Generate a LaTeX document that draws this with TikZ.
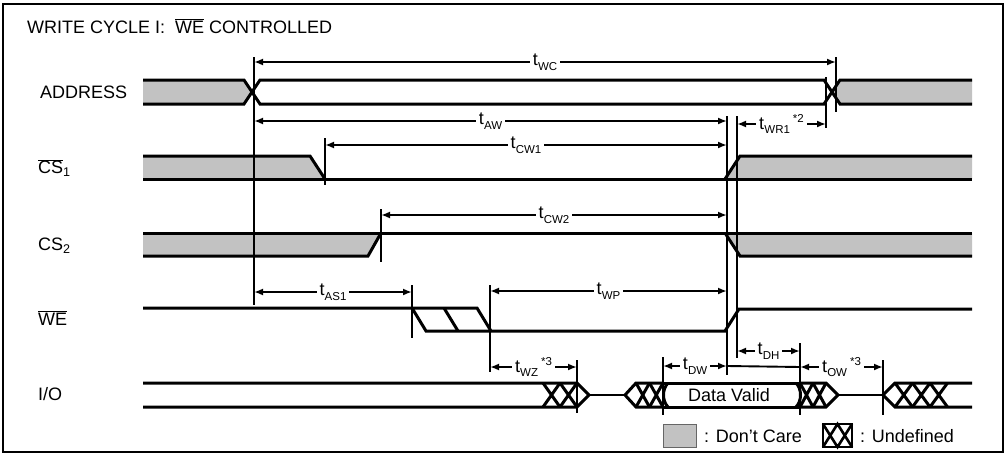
\documentclass[tikz,border=0pt]{standalone}
\usepackage{fontspec}
\setmainfont{Liberation Sans}
\usetikzlibrary{arrows.meta}
\newcommand\tlab[1]{t\kern0.2pt\raisebox{-0.5ex}{\fontsize{11.5}{12}\selectfont #1}}
\newcommand\nstar[1]{\kern3pt\raisebox{0.75ex}{\fontsize{11.5}{12}\selectfont *#1}}
\begin{document}
\begin{tikzpicture}[x=1pt,y=-1pt,
  sig/.style={line width=3pt, line join=miter},
  thin/.style={line width=1.9pt},
  dc/.style={fill=black!24, draw=none},
  dim/.style={line width=1.9pt, {Latex[length=9pt,width=7pt]}-{Latex[length=9pt,width=7pt]}},
  tl/.style={fill=white, inner sep=3pt, font=\fontsize{18}{20}\selectfont},
  lbl/.style={anchor=west, inner sep=0pt, font=\fontsize{18}{20}\selectfont},
  txt/.style={inner sep=0pt, font=\fontsize{18}{20}\selectfont}]
\useasboundingbox (0,0) rectangle (1006,463);
\draw[line width=2.2pt] (3,4) rectangle (1003,452);

% title and signal labels
\node[txt, anchor=base west] (title) at (27,33) {WRITE CYCLE I:\ \ $\overline{\hbox{WE}}$ CONTROLLED};
\node[lbl] (lA) at (40,92) {ADDRESS};
\node[lbl] (lC1) at (38,168) {$\overline{\hbox{CS}}$\textsubscript{1}};
\node[lbl] (lC2) at (38,246) {CS\textsubscript{2}};
\node[lbl] (lWE) at (38,318) {$\overline{\hbox{WE}}$};
\node[lbl] (lIO) at (38,394) {I/O};

% ---------- shading (don't care) ----------
\fill[dc] (143,80) -- (244,80) -- (252,92) -- (244,104) -- (143,104) -- cycle;
\fill[dc] (832,92) -- (840,80) -- (972,80) -- (972,104) -- (840,104) -- cycle;
\fill[dc] (143,156) -- (310,156) -- (325,179) -- (143,179) -- cycle;
\fill[dc] (725,179) -- (740,156) -- (972,156) -- (972,179) -- cycle;
\fill[dc] (143,233) -- (381,233) -- (368,256) -- (143,256) -- cycle;
\fill[dc] (725,233) -- (972,233) -- (972,256) -- (740,256) -- cycle;

% ---------- ADDRESS ----------
\draw[sig] (143,80) -- (244,80) -- (260,104) -- (824,104) -- (840,80) -- (972,80);
\draw[sig] (143,104) -- (244,104) -- (260,80) -- (824,80) -- (840,104) -- (972,104);

% ---------- CS1 ----------
\draw[sig] (143,156) -- (310,156) -- (325,179);
\draw[sig] (143,179) -- (972,179);
\draw[sig] (725,179) -- (740,156) -- (972,156);

% ---------- CS2 ----------
\draw[sig] (143,233) -- (972,233);
\draw[sig] (143,256) -- (368,256) -- (381,233);
\draw[sig] (725,233) -- (740,256) -- (972,256);

% ---------- WE ----------
\draw[sig] (143,308) -- (477,308) -- (491,331) -- (725,331) -- (739,309) -- (972,309);
\draw[sig] (412,308) -- (426,331) -- (491,331);
\draw[sig] (444,308) -- (458,331);

% ---------- I/O ----------
\draw[sig] (143,383) -- (577,383) -- (589,395) -- (577,407) -- (143,407);
\foreach \a in {543,560} \draw[sig] (\a,383) -- (\a+17,407) (\a,407) -- (\a+17,383);
\draw[line width=1.9pt] (589,395) -- (625,395);
\draw[sig] (663,383) -- (636,383) -- (625,395) -- (636,407) -- (663,407);
\foreach \a in {636,649.5} \draw[sig] (\a,383) -- (\a+13.5,407) (\a,407) -- (\a+13.5,383);
\draw[sig] (663,383) -- (800,383) (663,407) -- (800,407);
\draw[sig] (668,383) .. controls (662,389) and (662,401) .. (668,407);
\draw[sig] (796,383) .. controls (802,389) and (802,401) .. (796,407);
\draw[sig] (800,383) -- (826,383) -- (838,395) -- (826,407) -- (800,407);
\foreach \a in {800,813} \draw[sig] (\a,383) -- (\a+13,407) (\a,407) -- (\a+13,383);
\draw[line width=1.9pt] (838,395) -- (883,395);
\draw[sig] (972,383) -- (895,383) -- (883,395) -- (895,407) -- (972,407);
\foreach \a in {895,912.5,930} \draw[sig] (\a,383) -- (\a+17.5,407) (\a,407) -- (\a+17.5,383);
\node[txt] (dv) at (729,395) {Data Valid};

% ---------- vertical reference lines ----------
\draw[thin] (254,57) -- (254,305);
\draw[thin] (836,57) -- (836,112);
\draw[thin] (826,77) -- (826,128);
\draw[thin] (727,116) -- (727,375);
\draw[thin] (737,116) -- (737,358);
\draw[thin] (325,138) -- (325,185);
\draw[thin] (381,209) -- (381,262);
\draw[thin] (412,285) -- (412,338);
\draw[thin] (490,285) -- (490,372);
\draw[thin] (577,360) -- (577,413);
\draw[thin] (663,357) -- (663,415);
\draw[thin] (800,343) -- (800,415);
\draw[thin] (883,360) -- (883,415);

% ---------- timing arrows ----------
\coordinate (wc1) at (254,62);  \coordinate (wc2) at (836,62);
\coordinate (aw1) at (254,121); \coordinate (aw2) at (727,121);
\coordinate (wr1) at (737,124); \coordinate (wr2) at (826,124);
\coordinate (c11) at (325,145); \coordinate (c12) at (727,145);
\coordinate (c21) at (381,215); \coordinate (c22) at (727,215);
\coordinate (as1) at (254,292); \coordinate (as2) at (412,292);
\coordinate (wp1) at (490,291); \coordinate (wp2) at (727,291);
\coordinate (wz1) at (490,367); \coordinate (wz2) at (577,367);
\coordinate (dw1) at (663,366); \coordinate (dw2) at (727,366);
\coordinate (dh1) at (737,351); \coordinate (dh2) at (800,351);
\coordinate (ow1) at (800,367); \coordinate (ow2) at (883,367);
\draw[dim] (wc1) -- node[tl] {\tlab{WC}} (wc2);
\draw[dim] (aw1) -- node[tl] {\tlab{AW}} (aw2);
\draw[dim] (wr1) -- node[tl] {\tlab{WR1}\nstar{2}} (wr2);
\draw[dim] (c11) -- node[tl] {\tlab{CW1}} (c12);
\draw[dim] (c21) -- node[tl] {\tlab{CW2}} (c22);
\draw[dim] (as1) -- node[tl] {\tlab{AS1}} (as2);
\draw[dim] (wp1) -- node[tl] {\tlab{WP}} (wp2);
\draw[dim] (wz1) -- node[tl] {\tlab{WZ}\nstar{3}} (wz2);
\draw[dim] (dw1) -- node[tl] {\tlab{DW}} (dw2);
\draw[dim] (dh1) -- node[tl] {\tlab{DH}} (dh2);
\draw[dim] (ow1) -- node[tl] {\tlab{OW}\nstar{3}} (ow2);
\draw[thin] (dw2) -- (ow1);

% ---------- legend ----------
\draw[line width=0.8pt, draw=black!60, fill=black!24] (663,424) rectangle (696,447);
\node[txt, anchor=west] (ldc) at (704,436) {: Don't Care};
\draw[line width=2.6pt] (823,424) rectangle (852,447);
\draw[line width=2.6pt] (823,424) -- (837.5,447) -- (852,424) (823,447) -- (837.5,424) -- (852,447);
\node[txt, anchor=west] (lud) at (860,436) {: Undefined};
\end{tikzpicture}
\end{document}
